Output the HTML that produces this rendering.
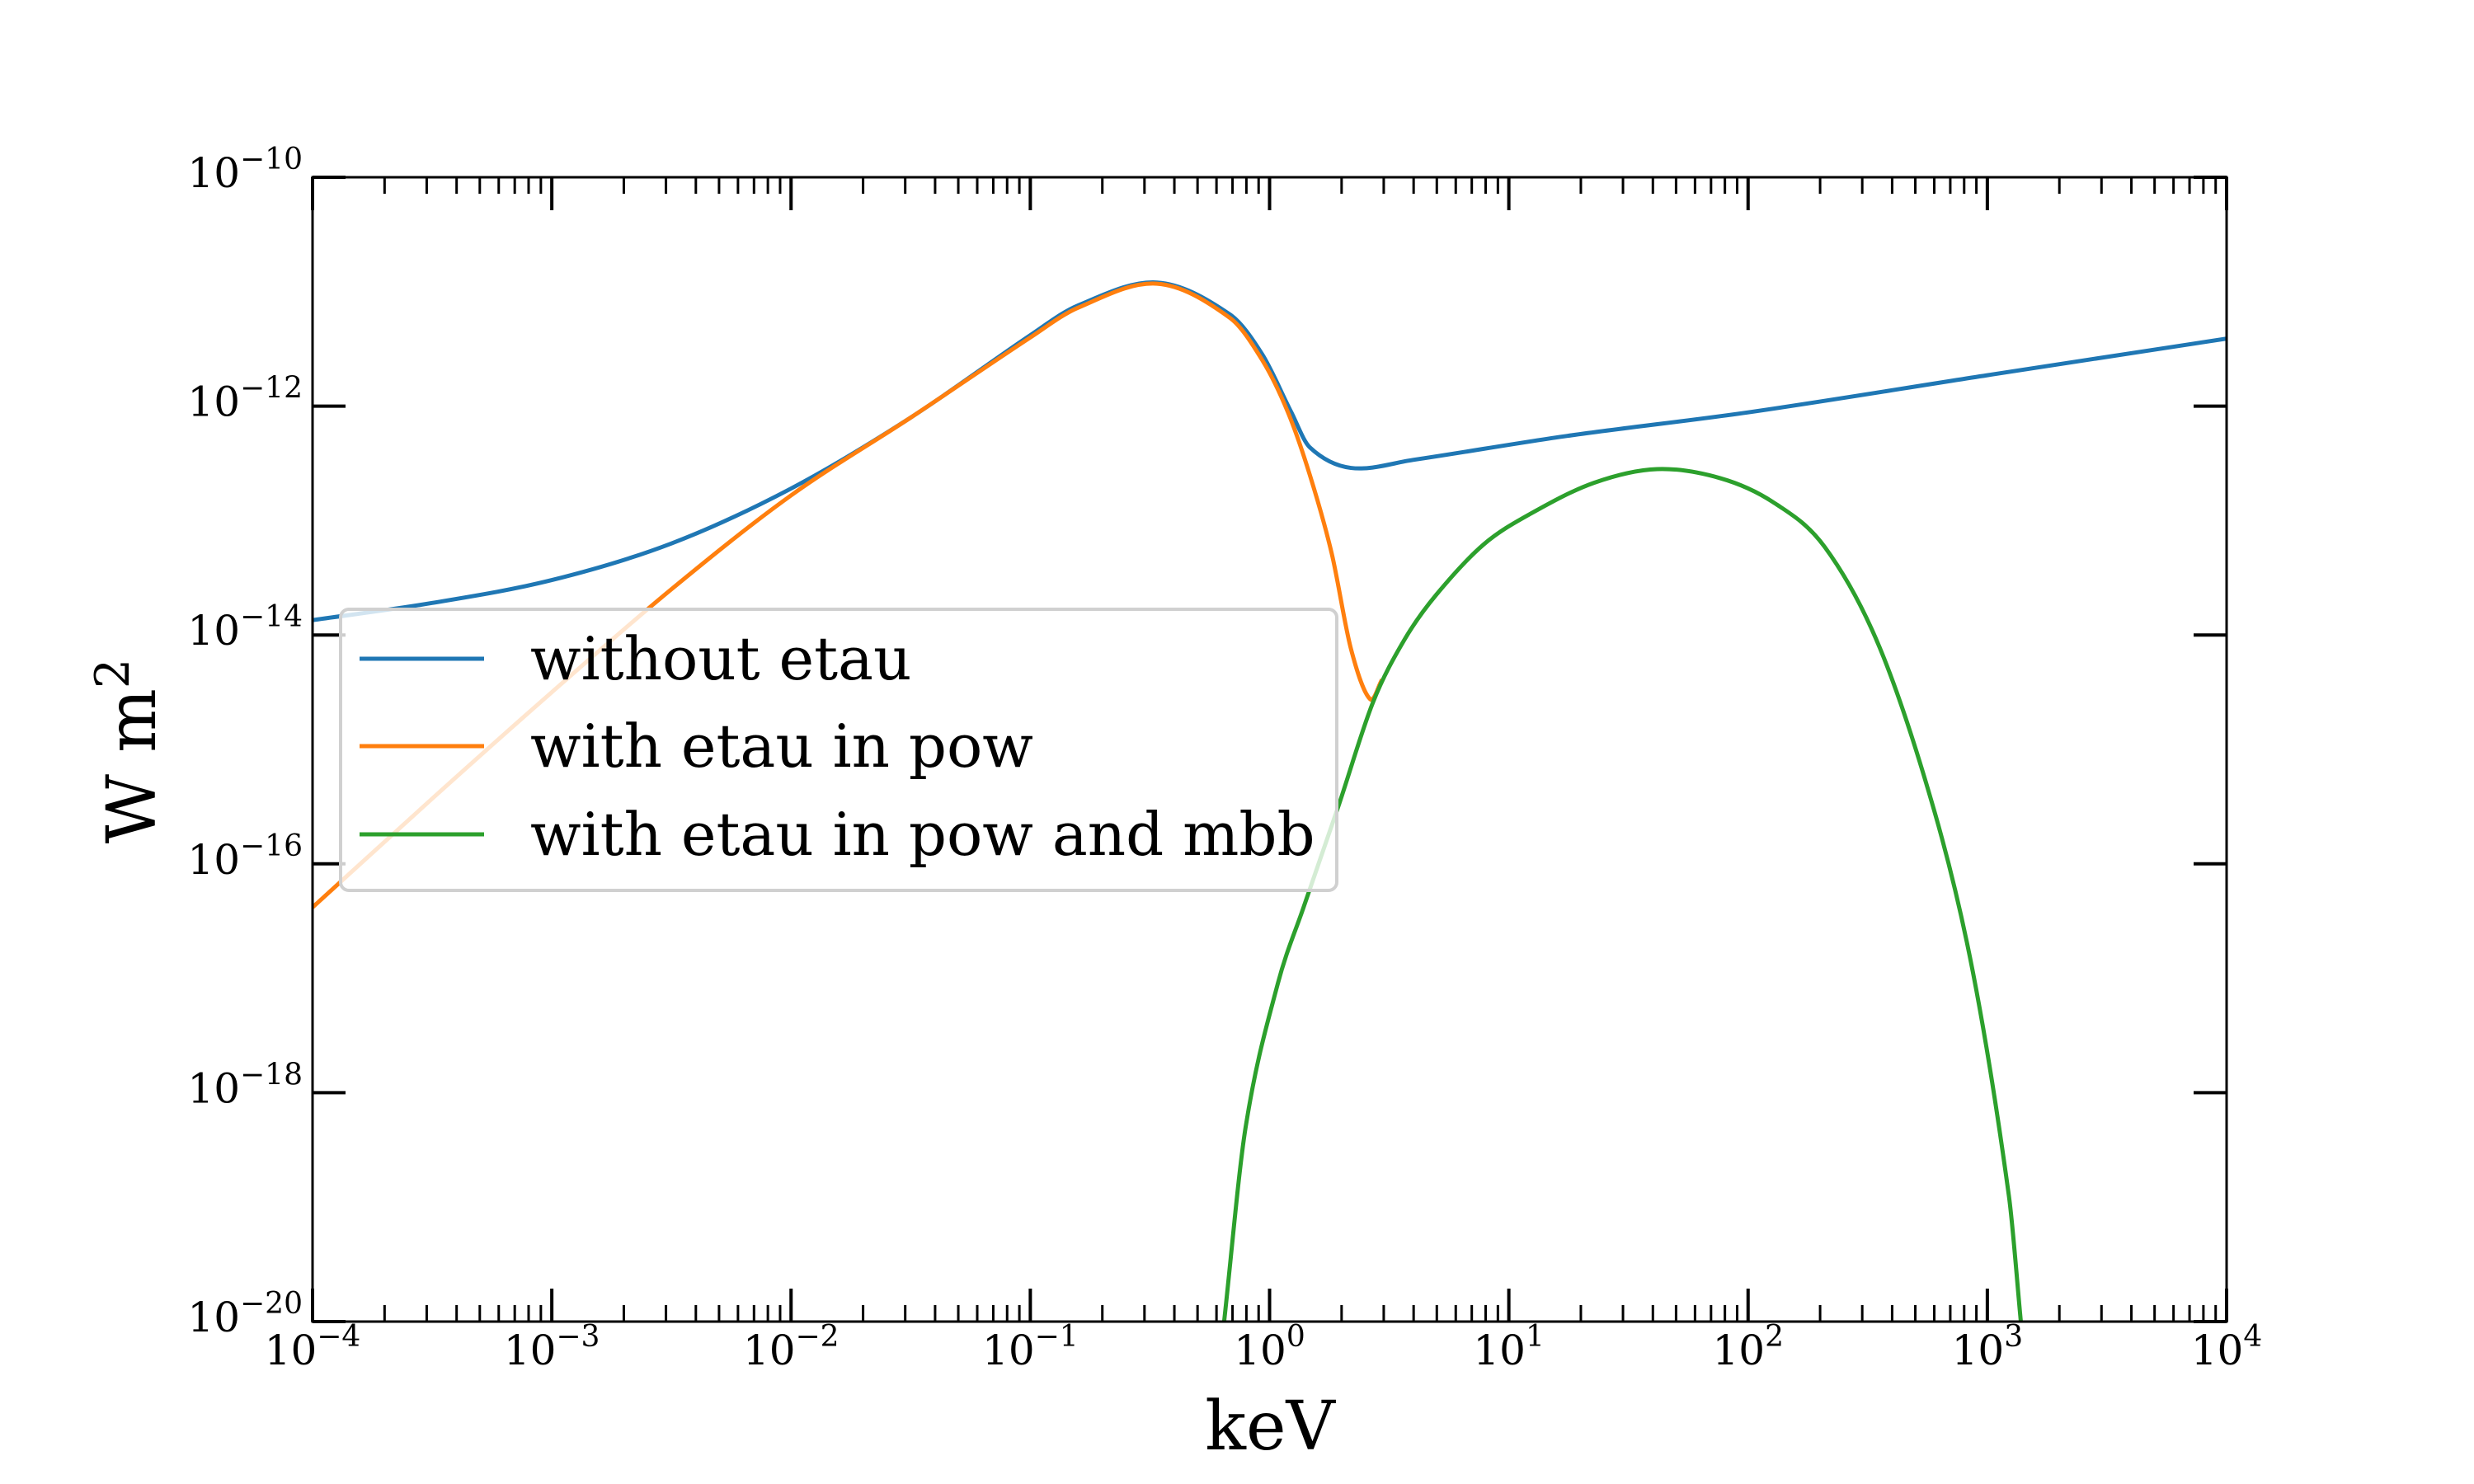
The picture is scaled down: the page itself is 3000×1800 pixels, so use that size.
<!DOCTYPE html>
<html><head><meta charset="utf-8"><style>
html,body{margin:0;padding:0;background:#fff}
svg{display:block}
text{font-family:"DejaVu Serif","Liberation Serif",serif;fill:#000}
</style></head><body>
<svg id="chart" width="3000" height="1800" viewBox="0 0 3000 1800" xmlns="http://www.w3.org/2000/svg">
<rect width="3000" height="1800" fill="#fff"/>
<defs><clipPath id="clip"><rect x="379" y="215" width="2321" height="1388"/></clipPath></defs>
<g id="series" clip-path="url(#clip)"></g>
<g id="axes"></g>
<g id="legend">
 <rect x="413" y="739" width="1208" height="341" rx="10" fill="#fff" fill-opacity="0.8" stroke="#d0d0d0" stroke-width="4"/>
 <g>
  <line x1="436" x2="587" y1="799" y2="799" stroke="#1f77b4" stroke-width="5"/>
  <text x="643" y="824" font-size="72">without etau</text>
 </g>
 <g>
  <line x1="436" x2="587" y1="905" y2="905" stroke="#ff7f0e" stroke-width="5"/>
  <text x="643" y="930" font-size="72">with etau in pow</text>
 </g>
 <g>
  <line x1="436" x2="587" y1="1012" y2="1012" stroke="#2ca02c" stroke-width="5"/>
  <text x="643" y="1037" font-size="72">with etau in pow and mbb</text>
 </g>
</g>
<text x="1540" y="1758" font-size="82" text-anchor="middle">keV</text>
<text transform="translate(188,911) rotate(-90)" font-size="82" text-anchor="middle">W m<tspan font-size="57" dy="-32">2</tspan></text>
</svg>
<script>
const xTickExps = [-4,-3,-2,-1,0,1,2,3,4];
const yTickExps = [-20,-18,-16,-14,-12,-10];
const blueLogE = [-4,-3.5,-3,-2.5,-2,-1.5,-1,-0.8,-0.47,-0.165,-0.03,0.09,0.168,0.34,0.6,1.245,2.015,3,4];
const blueLogF = [-13.87,-13.72,-13.52,-13.2,-12.72,-12.1,-11.38,-11.12,-10.92,-11.2,-11.55,-12.05,-12.36,-12.54,-12.47,-12.26,-12.05,-11.73,-11.41];
const orangeLogE = [-4,-3.5,-3,-2.5,-2,-1.5,-1,-0.8,-0.47,-0.165,-0.03,0.076,0.168,0.26,0.34,0.42,0.47];
const orangeLogF = [-16.38,-15.43,-14.5,-13.6,-12.78,-12.1,-11.4,-11.14,-10.93,-11.23,-11.6,-12.05,-12.6,-13.29,-14.12,-14.56,-14.39];
const greenLogE = [-0.19,-0.1,0.034,0.142,0.287,0.432,0.564,0.696,0.894,1.091,1.356,1.62,1.884,2.105,2.32,2.55,2.78,2.94,3.09,3.14];
const greenLogF = [-20,-18.3,-17.05,-16.38,-15.5,-14.59,-14.04,-13.65,-13.21,-12.94,-12.67,-12.55,-12.63,-12.84,-13.23,-14.11,-15.55,-16.95,-18.9,-20];

const X0=379,X1=2700,Y0=215,Y1=1603;
const xs = v => X0+(v+4)/8*(X1-X0);
const ys = v => Y0+(-10-v)/10*(Y1-Y0);
const NS="http://www.w3.org/2000/svg";
function mk(tag,attrs,parent){const e=document.createElementNS(NS,tag);for(const k in attrs)e.setAttribute(k,attrs[k]);parent.appendChild(e);return e;}

function pathD(ex,fy){
  const p=ex.map((e,i)=>[xs(e),ys(fy[i])]);
  const n=p.length, m=[];
  for(let i=0;i<n;i++){
    const a=p[Math.max(i-1,0)], b=p[Math.min(i+1,n-1)];
    m.push((b[1]-a[1])/(b[0]-a[0]));
  }
  let d=`M${p[0][0]},${p[0][1]}`;
  for(let i=0;i<n-1;i++){
    const b=p[i],c=p[i+1],h=(c[0]-b[0])/3;
    d+=` C${b[0]+h},${b[1]+m[i]*h} ${c[0]-h},${c[1]-m[i+1]*h} ${c[0]},${c[1]}`;
  }
  return d;
}
const series=document.getElementById('series');
const s1=mk('path',{d:pathD(blueLogE,blueLogF),fill:'none',stroke:'#1f77b4','stroke-width':5},series);


const s2=mk('path',{d:pathD(orangeLogE,orangeLogF),fill:'none',stroke:'#ff7f0e','stroke-width':5},series);


const s3=mk('path',{d:pathD(greenLogE,greenLogF),fill:'none',stroke:'#2ca02c','stroke-width':5},series);



const axes=document.getElementById('axes');
const frame=mk('rect',{x:X0,y:Y0,width:X1-X0,height:Y1-Y0,fill:'none',stroke:'#000','stroke-width':3},axes);


xTickExps.forEach(k=>{
  const x=xs(k);
  mk('line',{x1:x,x2:x,y1:Y1,y2:Y1-40,stroke:'#000','stroke-width':4},axes);
  mk('line',{x1:x,x2:x,y1:Y0,y2:Y0+40,stroke:'#000','stroke-width':4},axes);
  const t=mk('text',{x:x,y:1655,'font-size':50,'text-anchor':'middle'},axes);
  
  
  t.innerHTML=`10<tspan font-size="36" dy="-22">${k<0?'\u2212'+(-k):k}</tspan>`;
  if(k<4){for(let m=2;m<=9;m++){const xm=xs(k+Math.log10(m));
    mk('line',{x1:xm,x2:xm,y1:Y1,y2:Y1-20,stroke:'#000','stroke-width':3},axes);
    mk('line',{x1:xm,x2:xm,y1:Y0,y2:Y0+20,stroke:'#000','stroke-width':3},axes);}}
});
yTickExps.forEach(k=>{
  const y=ys(k);
  mk('line',{x1:X0,x2:X0+40,y1:y,y2:y,stroke:'#000','stroke-width':4},axes);
  mk('line',{x1:X1,x2:X1-40,y1:y,y2:y,stroke:'#000','stroke-width':4},axes);
  const t=mk('text',{x:367,y:y+12,'font-size':50,'text-anchor':'end'},axes);
  
  
  t.innerHTML=`10<tspan font-size="36" dy="-22">\u2212${-k}</tspan>`;
});
</script>
</body></html>
